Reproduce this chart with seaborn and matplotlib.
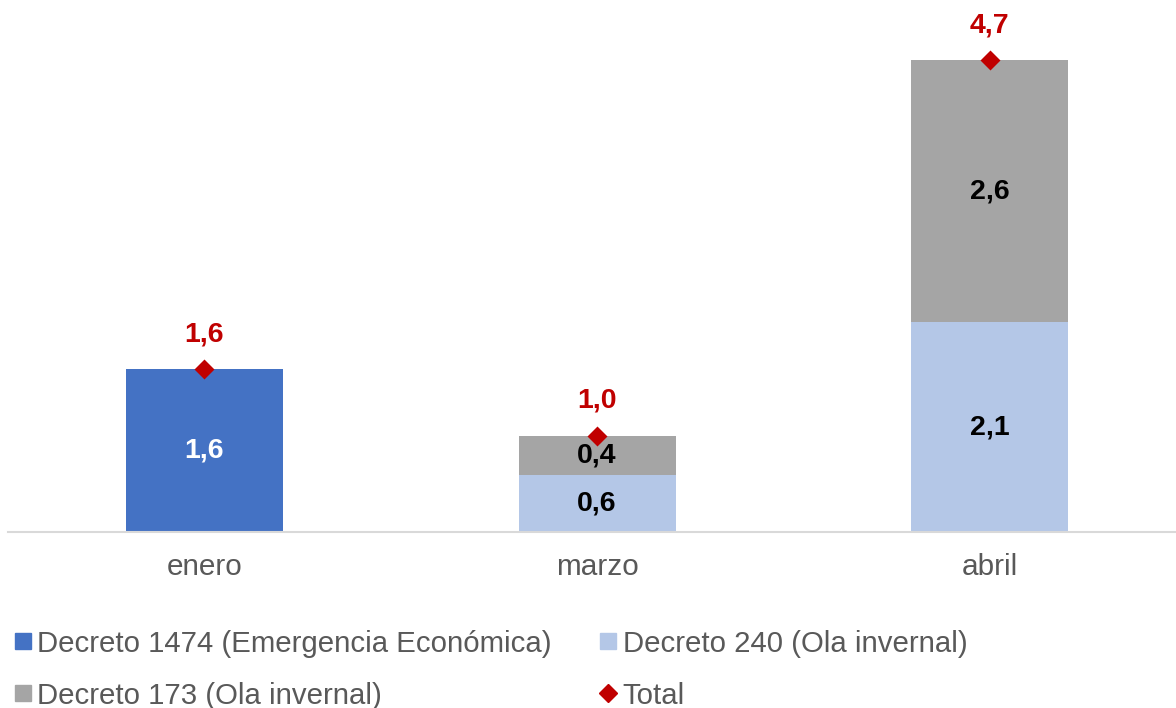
import numpy as np
import pandas as pd
import seaborn as sns
import matplotlib.pyplot as plt
from matplotlib.lines import Line2D

# values (billones)
months = ["enero", "marzo", "abril"]
dec_1474 = [1.62, 0.0, 0.0]
dec_240 = [0.0, 0.57, 2.09]
dec_173 = [0.0, 0.39, 2.61]

names = ["Decreto 1474 (Emergencia Económica)", "Decreto 240 (Ola invernal)",
         "Decreto 173 (Ola invernal)", "Total"]
colors = ["#4472c4", "#b4c7e7", "#a5a5a5", "#c00000"]
grey_txt = "#595959"

df = pd.DataFrame({"mes": months, "d1474": dec_1474, "d240": dec_240, "d173": dec_173})
df["c240"] = df["d1474"] + df["d240"]
df["total"] = df["c240"] + df["d173"]

def fmt(v):
    return ("%.1f" % v).replace(".", ",")

sns.set_style("white")
plt.rcParams["font.family"] = ["Liberation Sans", "DejaVu Sans"]

fig = plt.figure(figsize=(11.76, 7.08), dpi=100)
ax = fig.add_axes([0.007, 0.2486, 0.993, 0.7514])

# stacked bars by overlaying cumulative heights
for col, c in [("total", colors[2]), ("c240", colors[1]), ("d1474", colors[0])]:
    sns.barplot(data=df, x="mes", y=col, color=c, width=0.4, saturation=1,
                linewidth=0, ax=ax)
sns.pointplot(data=df, x="mes", y="total", color=colors[3], markers="D", linestyle="none",
              markersize=8, ax=ax)

lab_fs = 20.5
for i in range(len(months)):
    if df["d1474"][i] > 0:
        ax.text(i, df["d1474"][i] / 2, fmt(df["d1474"][i]), ha="center", va="center",
                color="white", fontsize=lab_fs, fontweight="bold")
    if df["d240"][i] > 0:
        ax.text(i, df["d1474"][i] + df["d240"][i] / 2, fmt(df["d240"][i]), ha="center",
                va="center", color="black", fontsize=lab_fs, fontweight="bold")
    if df["d173"][i] > 0:
        ax.text(i, df["c240"][i] + df["d173"][i] / 2, fmt(df["d173"][i]), ha="center",
                va="center", color="black", fontsize=lab_fs, fontweight="bold")
    ax.text(i, df["total"][i] + 0.35, fmt(df["total"][i]), ha="center", va="center",
            color=colors[3], fontsize=lab_fs, fontweight="bold")

ax.set_xlim(-0.5, 2.475)
ax.set_ylim(0, 5.3)
ax.set_xlabel("")
ax.set_ylabel("")
ax.set_yticks([])
ax.tick_params(axis="x", length=0, labelsize=21.4, labelcolor=grey_txt, pad=15)
for s in ["top", "right", "left"]:
    ax.spines[s].set_visible(False)
ax.spines["bottom"].set_color("#d9d9d9")
ax.spines["bottom"].set_linewidth(1.5)

handles = [
    Line2D([], [], marker="s", linestyle="none", color=colors[0], markersize=11),
    Line2D([], [], marker="s", linestyle="none", color=colors[2], markersize=11),
    Line2D([], [], marker="s", linestyle="none", color=colors[1], markersize=11),
    Line2D([], [], marker="D", linestyle="none", color=colors[3], markersize=9.5),
]
labels = [names[0], names[2], names[1], names[3]]
fig.legend(handles, labels, loc="upper left", bbox_to_anchor=(0.008, 0.119), ncol=2,
           frameon=False, fontsize=21.2, labelcolor=grey_txt, handlelength=0.5,
           handletextpad=0.25, columnspacing=1.65, labelspacing=0.82,
           borderaxespad=0, borderpad=0.2)

fig.savefig("out.png", dpi=100)
